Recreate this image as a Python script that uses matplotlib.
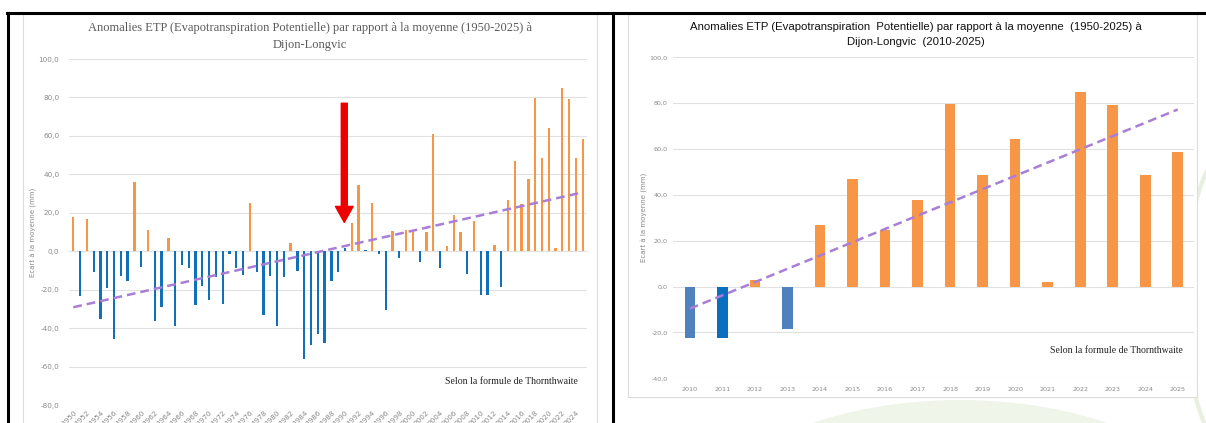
import numpy as np
import matplotlib
matplotlib.use("Agg")
import matplotlib.pyplot as plt
from matplotlib.patches import Rectangle, Ellipse

# Anomalies ETP (mm) par rapport a la moyenne 1950-2025, Dijon-Longvic
years = np.arange(1950, 2026)
anomalies = [
    17.8, -23.4, 16.8, -10.7, -35.5, -19.0, -45.9, -13.0, -15.6, 36.2,
    -8.3, 11.3, -36.4, -28.9, 7.1, -39.0, -7.4, -8.8, -28.1, -18.2,
    -25.5, -13.3, -27.7, -1.4, -8.7, -12.3, 25.3, -10.9, -33.4, -13.0,
    -39.0, -13.2, 4.2, -10.4, -56.3, -49.0, -43.1, -47.6, -15.6, -10.9,
    1.7, 14.7, 34.6, 0.6, 25.3, -1.4, -30.6, 10.6, -3.5, 11.3,
    10.0, -5.4, 10.0, 60.8, -8.8, 2.8, 18.7, 9.9, -11.6, 15.9,
    -22.6, -22.6, 3.0, -18.6, 26.8, 47.1, 24.6, 37.7, 79.8, 48.5,
    64.2, 1.8, 85.0, 79.1, 48.7, 58.5,
]
blue_years = [1990, 1993]          # petites valeurs positives dessinees en bleu
zoom_start = 2010
arrow_year = 1989.9
arrow_from, arrow_to = 77, 15

ORANGE = "#F79646"
BLUE = "#1170B8"
BLUE_LIGHT = "#4F81BD"
PURPLE = "#A97ED6"
GRID = "#E1E1E1"
TICK = "#8A8A8A"

W, H = 1206, 423
fig = plt.figure(figsize=(W / 100, H / 100), dpi=100)

# fond : cadres, traits noirs et filigrane (coordonnees pixels)
bg = fig.add_axes([0, 0, 1, 1])
bg.set_xlim(0, W)
bg.set_ylim(H, 0)
bg.axis("off")
bg.add_patch(Ellipse((960, 590), 620, 380, facecolor="#EFF5E8", edgecolor="none"))
bg.add_patch(Ellipse((1230, 300), 90, 300, facecolor="none", edgecolor="#E8F1DF", lw=3))
bg.add_patch(Rectangle((23, 14), 574, 420, facecolor="white", edgecolor="#DCDCDC", lw=0.8))
bg.add_patch(Rectangle((628, 14), 569, 383, facecolor="white", edgecolor="#DCDCDC", lw=0.8))
bg.plot([7, W], [13, 13], color="black", lw=2.2)
bg.plot([8, 8], [13, H], color="black", lw=2.2)
bg.plot([612.7, 612.7], [13, H], color="black", lw=2.2)


def bar_colors(yrs, vals, overrides=None):
    cols = []
    for y, v in zip(yrs, vals):
        if overrides and y in overrides:
            cols.append(overrides[y])
        elif v > 0 and y not in blue_years:
            cols.append(ORANGE)
        else:
            cols.append(BLUE)
    return cols


def style(ax, lo, hi, step, size, pad):
    ax.set_facecolor("none")
    ax.set_ylim(lo, hi)
    ax.set_yticks(np.arange(lo, hi + 1, step))
    ax.set_yticklabels([f"{t:.1f}".replace(".", ",") for t in np.arange(lo, hi + 1, step)])
    ax.grid(axis="y", color=GRID, lw=0.8)
    ax.set_axisbelow(True)
    for s in ax.spines.values():
        s.set_visible(False)
    ax.tick_params(length=0, colors=TICK, labelsize=size)
    ax.tick_params(axis="y", pad=pad)


vals = np.array(anomalies)

# --- graphique 1950-2025 ---
ax1 = fig.add_axes([69 / W, 1 - 405 / H, 518 / W, 346 / H])
style(ax1, -80, 100, 20, 5.2, 7)
ax1.bar(years, vals, width=0.34, color=bar_colors(years, vals), zorder=2)
k = np.polyfit(years, vals, 1)
ax1.plot(years, np.polyval(k, years), ls=(0, (3.5, 2)), color=PURPLE, lw=1.8, zorder=3)
ax1.set_xlim(1949.37, 2025.63)
ax1.set_xticks(years[::2])
ax1.set_xticklabels(years[::2], rotation=45, ha="right", rotation_mode="anchor")
ax1.tick_params(axis="x", pad=3)
ax1.set_ylabel("Ecart à la moyenne (mm)", fontsize=5, color=TICK, labelpad=1)
ax1.annotate("", xy=(arrow_year, arrow_to), xytext=(arrow_year, arrow_from),
             arrowprops=dict(width=4.3, headwidth=12.7, headlength=11.5, shrink=0,
                             color="#EE0000"), zorder=5)
ax1.text(0.983, 0.069, "Selon la formule de Thornthwaite", transform=ax1.transAxes,
         ha="right", va="center", fontsize=7.0, family="Liberation Serif", color="#222222")
fig.text(310 / W, 1 - 28 / H,
         "Anomalies ETP (Evapotranspiration Potentielle) par rapport à la moyenne (1950-2025) à",
         ha="center", va="center", fontsize=9.0, family="Liberation Serif", color="#5A5A5A")
fig.text(310 / W, 1 - 45 / H, "Dijon-Longvic",
         ha="center", va="center", fontsize=9.0, family="Liberation Serif", color="#5A5A5A")

# --- graphique 2010-2025 ---
sel = years >= zoom_start
y2, v2 = years[sel], vals[sel]
ax2 = fig.add_axes([673.3 / W, 1 - 378.3 / H, 520.7 / W, 321 / H])
style(ax2, -40, 100, 20, 4.6, 4)
ax2.bar(y2, v2, width=0.33, zorder=2,
        color=bar_colors(y2, v2, {2010: BLUE_LIGHT, 2013: BLUE_LIGHT, 2011: "#0B6FC0"}))
k2 = np.polyfit(y2, v2, 1)
ax2.plot(y2, np.polyval(k2, y2), ls=(0, (3.5, 2)), color=PURPLE, lw=1.8, zorder=3)
ax2.set_xlim(2009.49, 2025.5)
ax2.set_xticks(y2)
ax2.tick_params(axis="x", pad=6)
ax2.set_ylabel("Ecart à la moyenne (mm)", fontsize=5, color=TICK, labelpad=1)
ax2.text(0.979, 0.088, "Selon la formule de Thornthwaite", transform=ax2.transAxes,
         ha="right", va="center", fontsize=7.0, family="Liberation Serif", color="#222222")
fig.text(916 / W, 1 - 27 / H,
         "Anomalies ETP (Evapotranspiration  Potentielle) par rapport à la moyenne  (1950-2025) à",
         ha="center", va="center", fontsize=8.2, family="Liberation Sans", color="#111111")
fig.text(916 / W, 1 - 42 / H, "Dijon-Longvic  (2010-2025)",
         ha="center", va="center", fontsize=8.2, family="Liberation Sans", color="#111111")

fig.savefig("out.png", dpi=100)
